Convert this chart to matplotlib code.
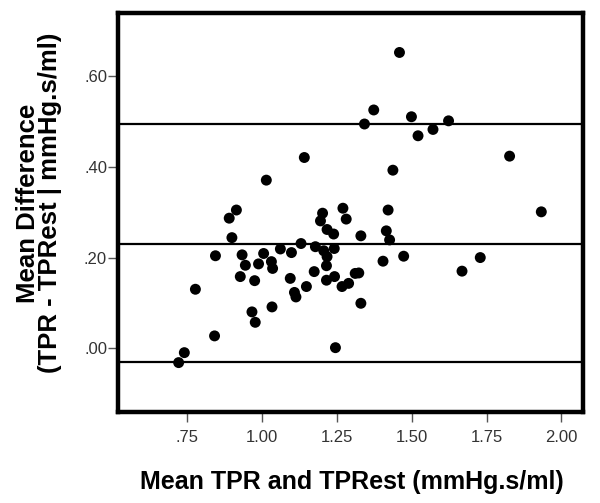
import numpy as np
import matplotlib.pyplot as plt
from matplotlib.ticker import FuncFormatter

plt.rcParams['font.family'] = ['Liberation Sans', 'DejaVu Sans']

# mean of TPR and TPRest
mean_tpr = [1.459, 1.373, 1.499, 1.623, 1.342, 1.571, 1.521, 1.141, 1.827, 1.014,
            1.437, 0.914, 0.890, 1.202, 1.195, 1.270, 1.281, 1.421, 1.933, 1.217,
            1.239, 1.330, 1.415, 1.426, 0.899, 0.844, 0.933, 0.944, 1.005, 0.988,
            1.031, 1.035, 1.061, 1.098, 1.130, 1.178, 1.206, 1.241, 1.217, 1.215,
            1.174, 1.323, 1.311, 1.404, 1.473, 1.729, 1.668, 0.927, 0.975, 0.777,
            1.094, 1.148, 1.108, 1.113, 1.215, 1.242, 1.267, 1.289, 1.330, 1.033,
            0.966, 0.977, 0.841, 1.245, 0.740, 0.721]
# difference TPR - TPRest
diff_tpr = [0.653, 0.526, 0.511, 0.502, 0.495, 0.483, 0.469, 0.421, 0.424, 0.371,
            0.393, 0.305, 0.287, 0.298, 0.281, 0.309, 0.285, 0.305, 0.301, 0.262,
            0.252, 0.248, 0.259, 0.239, 0.244, 0.204, 0.206, 0.183, 0.209, 0.186,
            0.191, 0.176, 0.219, 0.211, 0.231, 0.224, 0.215, 0.220, 0.202, 0.182,
            0.169, 0.166, 0.165, 0.192, 0.203, 0.200, 0.170, 0.158, 0.149, 0.130,
            0.154, 0.136, 0.123, 0.113, 0.150, 0.158, 0.136, 0.143, 0.099, 0.091,
            0.080, 0.057, 0.027, 0.001, -0.010, -0.032]

# mean difference and limits of agreement
ref_lines = [0.496, 0.231, -0.030]

x_ticks = [0.75, 1.00, 1.25, 1.50, 1.75, 2.00]
y_ticks = [0.00, 0.20, 0.40, 0.60]


def no_lead_zero(v, pos):
    s = f"{v:.2f}"
    if s.startswith("0."):
        s = s[1:]
    elif s.startswith("-0."):
        s = "-" + s[2:]
    return s


fig = plt.figure(figsize=(6, 5.03), dpi=100)
ax = fig.add_axes([0.197, 0.181, 0.775, 0.793])

for v in ref_lines:
    ax.axhline(v, color='black', lw=1.6, zorder=1)

ax.scatter(mean_tpr, diff_tpr, s=62, color='black', edgecolors='none', zorder=3)

ax.set_xlim(0.519, 2.073)
ax.set_ylim(-0.141, 0.740)
ax.set_xticks(x_ticks)
ax.set_yticks(y_ticks)
ax.xaxis.set_major_formatter(FuncFormatter(no_lead_zero))
ax.yaxis.set_major_formatter(FuncFormatter(no_lead_zero))

for sp in ax.spines.values():
    sp.set_linewidth(3.2)
ax.tick_params(direction='out', length=7, width=1, color='#555555',
               labelsize=12, labelcolor='#333333')
ax.tick_params(axis='x', pad=6)
ax.tick_params(axis='y', pad=1)

fig.text(0.586, 0.042, "Mean TPR and TPRest (mmHg.s/ml)", fontsize=18,
         fontweight='bold', ha='center', va='center')
fig.text(0.065, 0.596, "Mean Difference\n(TPR - TPRest | mmHg.s/ml)", fontsize=18.5,
         fontweight='bold', ha='center', va='center', rotation=90,
         linespacing=0.92, multialignment='center')

fig.savefig("out.png", dpi=100)
